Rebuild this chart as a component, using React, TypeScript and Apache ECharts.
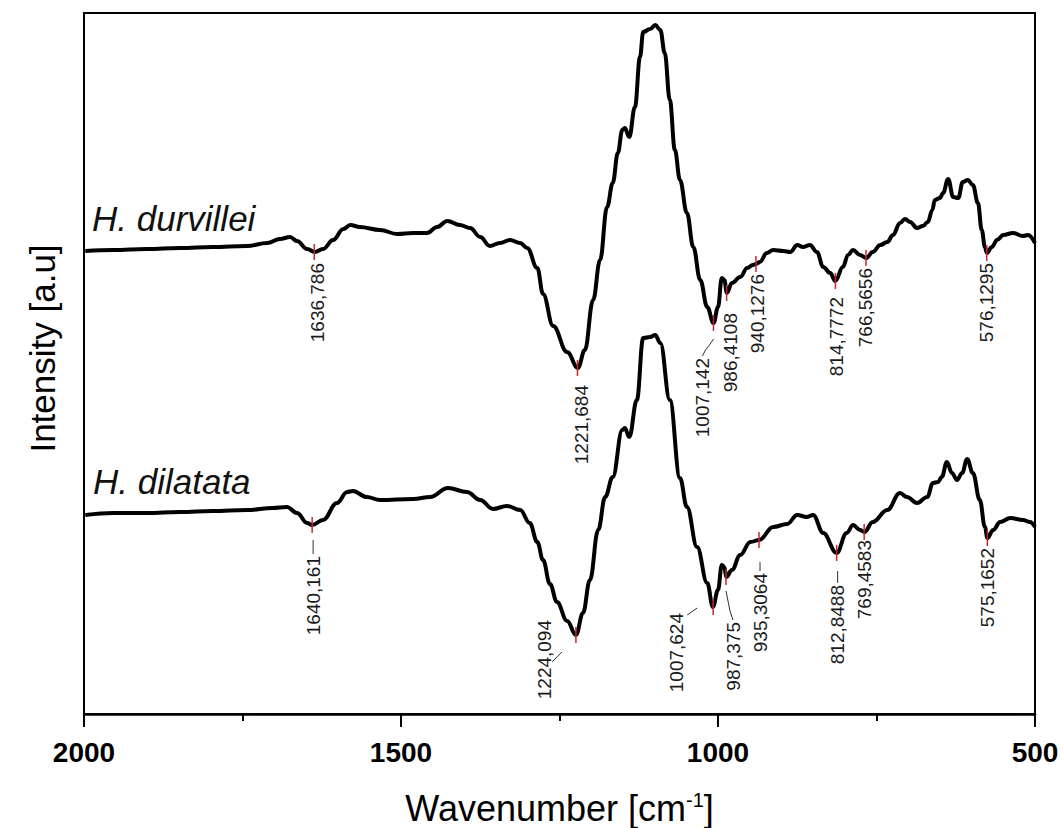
import React, { useEffect, useRef } from "react";
import * as echarts from "echarts";

// ---- Data (wavenumber [cm-1], intensity [a.u.]) ----
const durvillei: [number, number][] = [
  [1998, 463], [1954, 464], [1901, 465], [1849, 466], [1797, 467], [1743, 468], [1711, 471], [1691, 475],
  [1675, 477], [1664, 473], [1648, 465], [1636, 462], [1623, 465], [1607, 474], [1591, 485], [1580, 489],
  [1565, 487], [1533, 484], [1506, 480], [1481, 481], [1459, 481], [1443, 487], [1427, 493], [1407, 489],
  [1391, 486], [1375, 477], [1360, 468], [1344, 471], [1328, 474], [1312, 471], [1301, 466], [1285, 446],
  [1276, 420], [1260, 388], [1238, 362], [1221, 346], [1210, 364], [1197, 414], [1186, 454], [1175, 507],
  [1166, 531], [1158, 561], [1151, 584], [1147, 586], [1140, 577], [1131, 607], [1123, 657], [1118, 682],
  [1107, 685], [1099, 689], [1091, 684], [1084, 661], [1076, 614], [1068, 564], [1060, 534], [1049, 501],
  [1039, 467], [1028, 434], [1017, 407], [1007, 391], [1000, 407], [994, 436], [990, 434], [986, 421],
  [978, 431], [965, 437], [954, 446], [945, 449], [940, 450], [934, 452], [923, 461], [913, 464],
  [897, 463], [886, 462], [875, 469], [866, 467], [855, 469], [844, 462], [834, 447], [823, 441],
  [815, 433], [803, 447], [795, 459], [787, 464], [776, 459], [766, 456], [756, 462], [744, 469],
  [733, 472], [724, 479], [713, 491], [705, 495], [697, 492], [686, 486], [677, 488], [669, 492],
  [662, 504], [658, 514], [650, 516], [645, 521], [637, 535], [629, 517], [621, 516], [614, 532],
  [606, 534], [598, 529], [590, 511], [584, 484], [579, 467], [576, 461], [568, 467], [560, 474],
  [550, 479], [535, 481], [519, 478], [511, 479], [500, 471],
];

const dilatata: [number, number][] = [
  [1998, 199], [1954, 201], [1901, 201], [1849, 202], [1797, 203], [1743, 204], [1702, 206], [1680, 207],
  [1664, 201], [1648, 191], [1640, 189], [1623, 194], [1601, 211], [1585, 222], [1576, 223], [1554, 217],
  [1533, 214], [1481, 215], [1454, 217], [1426, 226], [1396, 222], [1375, 214], [1355, 205], [1333, 208],
  [1312, 204], [1297, 191], [1285, 172], [1276, 154], [1265, 130], [1254, 112], [1238, 93], [1224, 79],
  [1213, 101], [1202, 134], [1189, 184], [1178, 217], [1166, 237], [1151, 284], [1147, 286], [1140, 277],
  [1128, 314], [1118, 376], [1107, 377], [1099, 379], [1091, 371], [1076, 314], [1060, 236], [1049, 207],
  [1033, 167], [1017, 131], [1008, 107], [1000, 124], [994, 149], [990, 147], [987, 137], [978, 144],
  [965, 159], [949, 172], [935, 174], [913, 187], [891, 190], [875, 199], [860, 197], [850, 199],
  [834, 181], [813, 161], [797, 181], [787, 189], [776, 184], [769, 182], [756, 192], [733, 204],
  [713, 221], [702, 217], [686, 211], [670, 217], [661, 231], [653, 232], [647, 237], [639, 252],
  [631, 241], [623, 234], [615, 241], [607, 255], [598, 241], [587, 214], [579, 187], [575, 176],
  [566, 184], [555, 192], [539, 196], [519, 194], [508, 192], [500, 187],
];

const durvilleiPeaks = [1636.786, 1221.684, 1007.142, 986.4108, 940.1276, 814.7772, 766.5656, 576.1295];
const durvilleiPeakIntensity = [462, 346, 391, 421, 450, 433, 456, 461];
const dilatataPeaks = [1640.161, 1224.094, 1007.624, 987.375, 935.3064, 812.8488, 769.4583, 575.1652];
const dilatataPeakIntensity = [189, 79, 107, 137, 174, 161, 182, 176];

const majorTicks = [2000, 1500, 1000, 500];

const speciesNames = ["H. durvillei", "H. dilatata"];
const axisTitles = { x: "Wavenumber [cm", xSup: "-1", xEnd: "]", y: "Intensity [a.u]" };

// ---- Label layout (pixel offsets relative to each peak marker) ----
type LabelLayout = { dx: number; dy: number; leader?: [number, number][] };
const durvilleiLabelLayout: LabelLayout[] = [
  { dx: 3, dy: 11 },
  { dx: 4, dy: 17 },
  { dx: -11, dy: 35, leader: [[0, 16], [-4, 22], [-8, 27], [-11, 33]] },
  { dx: 4, dy: 20 },
  { dx: 2, dy: 10 },
  { dx: 1, dy: 16 },
  { dx: 0, dy: 10 },
  { dx: 0, dy: 10 },
];
const dilatataLabelLayout: LabelLayout[] = [
  { dx: 1, dy: 31, leader: [[1, 15], [1, 29]] },
  { dx: -31, dy: -15, leader: [[-24, 27], [-14, 17]] },
  { dx: -37, dy: 6, leader: [[-26, 8], [-16, 1]] },
  { dx: 7, dy: 45, leader: [[0, 14], [4, 34], [7, 43]] },
  { dx: 1, dy: 33, leader: [[1, 22], [1, 31]] },
  { dx: 1, dy: 32, leader: [[1, 18], [1, 30]] },
  { dx: 0, dy: 8 },
  { dx: 0, dy: 10 },
];

const FONT = '"Liberation Sans", Arial, Helvetica, sans-serif';

function peakSeries(name: string, peaks: number[], intens: number[], layouts: LabelLayout[]) {
  return {
    type: "custom",
    name,
    coordinateSystem: "cartesian2d",
    silent: true,
    z: 5,
    encode: { x: 0, y: 1 },
    data: peaks.map((w, i) => [w, intens[i]]),
    renderItem: (params: any, api: any) => {
      const i = params.dataIndex;
      const p = api.coord([api.value(0), api.value(1)]);
      const L = layouts[i];
      const children: any[] = [
        {
          type: "line",
          shape: { x1: p[0], y1: p[1] - 8, x2: p[0], y2: p[1] + 8 },
          style: { stroke: "#c4282e", lineWidth: 1.5 },
        },
        {
          type: "text",
          x: p[0] + L.dx,
          y: p[1] + L.dy,
          rotation: Math.PI / 2,
          style: {
            text: String(peaks[i]).replace(".", ","),
            fill: "#1a1a1a",
            fontSize: 19,
            fontFamily: FONT,
            align: "right",
            verticalAlign: "middle",
          },
        },
      ];
      if (L.leader) {
        children.push({
          type: "polyline",
          shape: { points: L.leader.map(([a, b]) => [p[0] + a, p[1] + b]) },
          style: { stroke: "#333", lineWidth: 1, fill: null },
        });
      }
      return { type: "group", children };
    },
  };
}

export default function App() {
  const ref = useRef<HTMLDivElement>(null);
  useEffect(() => {
    document.body.style.margin = "0";
    if (!ref.current) return;
    const chart = echarts.init(ref.current, null, { renderer: "svg" });
    chart.setOption({
      animation: false,
      backgroundColor: "#fff",
      grid: {
        left: 84,
        right: 26,
        top: 13,
        bottom: 114,
        show: true,
        borderColor: "#000",
        borderWidth: 2,
        containLabel: false,
        outerBoundsMode: "none",
      },
      xAxis: {
        type: "value",
        min: 500,
        max: 2000,
        interval: 500,
        inverse: true,
        axisLine: { show: true, onZero: false, lineStyle: { color: "#000", width: 2.5 } },
        axisTick: { show: true, inside: false, length: 13, lineStyle: { color: "#000", width: 2 } },
        minorTick: { show: true, splitNumber: 2, length: 7, lineStyle: { color: "#000", width: 2 } },
        splitLine: { show: false },
        axisLabel: {
          color: "#000",
          fontSize: 28,
          fontWeight: "bold",
          fontFamily: FONT,
          margin: 24,
          formatter: (v: number) => String(v),
        },
        name: `{a|${axisTitles.x}}{s|${axisTitles.xSup}}{a|${axisTitles.xEnd}}`,
        nameLocation: "middle",
        nameGap: 76,
        nameTextStyle: {
          rich: {
            a: { fontSize: 36, fontFamily: FONT, color: "#000" },
            s: { fontSize: 20, fontFamily: FONT, color: "#000", verticalAlign: "top" },
          },
        },
      },
      yAxis: {
        type: "value",
        min: 0,
        max: 701,
        axisLine: { show: false },
        axisTick: { show: false },
        axisLabel: { show: false },
        splitLine: { show: false },
        name: axisTitles.y,
        nameLocation: "middle",
        nameGap: 24,
        nameRotate: 90,
        nameTextStyle: { fontSize: 35, fontFamily: FONT, color: "#000", padding: [0, 0, 0, 30] },
      },
      graphic: [
        {
          type: "text",
          x: 92,
          y: 218,
          style: { text: speciesNames[0], fontSize: 35, fontStyle: "italic", fontFamily: FONT, fill: "#111", verticalAlign: "middle" },
        },
        {
          type: "text",
          x: 93,
          y: 481,
          style: { text: speciesNames[1], fontSize: 35, fontStyle: "italic", fontFamily: FONT, fill: "#111", verticalAlign: "middle" },
        },
      ],
      series: [
        {
          type: "line",
          name: speciesNames[0],
          data: durvillei,
          symbol: "none",
          showSymbol: false,
          smooth: 0.4,
          smoothMonotone: "x",
          silent: true,
          z: 3,
          lineStyle: { color: "#000", width: 4 },
        },
        {
          type: "line",
          name: speciesNames[1],
          data: dilatata,
          symbol: "none",
          showSymbol: false,
          smooth: 0.4,
          smoothMonotone: "x",
          silent: true,
          z: 3,
          lineStyle: { color: "#000", width: 4 },
        },
        peakSeries("durvillei peaks", durvilleiPeaks, durvilleiPeakIntensity, durvilleiLabelLayout),
        peakSeries("dilatata peaks", dilatataPeaks, dilatataPeakIntensity, dilatataLabelLayout),
        {
          type: "custom",
          name: "major ticks",
          coordinateSystem: "cartesian2d",
          silent: true,
          clip: false,
          z: 6,
          data: majorTicks.map((t) => [t, 0]),
          renderItem: (params: any, api: any) => {
            const p = api.coord([api.value(0), 0]);
            return {
              type: "line",
              shape: { x1: p[0], y1: p[1], x2: p[0], y2: p[1] + 13 },
              style: { stroke: "#000", lineWidth: 2 },
            };
          },
        },
      ],
    });
    return () => chart.dispose();
  }, []);
  return <div ref={ref} style={{ width: 1061, height: 828 }} />;
}
